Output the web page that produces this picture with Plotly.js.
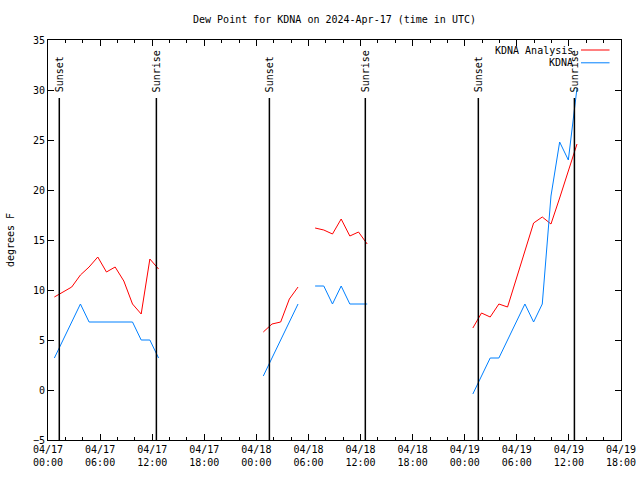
<!DOCTYPE html>
<html>
<head>
<meta charset="utf-8">
<script src="https://cdn.plot.ly/plotly-3.0.1.min.js"></script>
<style>html,body{margin:0;padding:0;background:#fff;}#chart{width:640px;height:480px;}</style>
</head>
<body>
<div id="chart"></div>
<script>
// ---- data ----
const seg1Times = ["2024-04-17 00:44","2024-04-17 01:44","2024-04-17 02:44","2024-04-17 03:44","2024-04-17 04:44","2024-04-17 05:44","2024-04-17 06:44","2024-04-17 07:44","2024-04-17 08:44","2024-04-17 09:44","2024-04-17 10:44","2024-04-17 11:44","2024-04-17 12:44"];
const seg1Analysis = [9.3, 9.8, 10.3, 11.5, 12.3, 13.3, 11.8, 12.3, 10.9, 8.6, 7.6, 13.1, 12.1];
const seg1Obs = [3.2, 5.0, 6.8, 8.6, 6.8, 6.8, 6.8, 6.8, 6.8, 6.8, 5.0, 5.0, 3.2];

const seg2Times = ["2024-04-18 00:48","2024-04-18 01:48","2024-04-18 02:48","2024-04-18 03:48","2024-04-18 04:48"];
const seg2Analysis = [5.8, 6.6, 6.8, 9.1, 10.3];
const seg2Obs = [1.4, 3.2, 5.0, 6.8, 8.6];

const seg3Times = ["2024-04-18 06:46","2024-04-18 07:46","2024-04-18 08:46","2024-04-18 09:46","2024-04-18 10:46","2024-04-18 11:46","2024-04-18 12:46"];
const seg3Analysis = [16.2, 16.0, 15.6, 17.1, 15.4, 15.8, 14.6];
const seg3Obs = [10.4, 10.4, 8.6, 10.4, 8.6, 8.6, 8.6];

const seg4Times = ["2024-04-19 00:56","2024-04-19 01:56","2024-04-19 02:56","2024-04-19 03:56","2024-04-19 04:56","2024-04-19 05:56","2024-04-19 06:56","2024-04-19 07:56","2024-04-19 08:56","2024-04-19 09:56","2024-04-19 10:56","2024-04-19 11:56","2024-04-19 12:56"];
const seg4Analysis = [6.2, 7.7, 7.3, 8.6, 8.3, 11.1, 13.9, 16.7, 17.3, 16.6, 19.2, 21.9, 24.6];
const seg4Obs = [-0.4, 1.4, 3.2, 3.2, 5.0, 6.8, 8.6, 6.8, 8.6, 19.4, 24.8, 23.0, 30.2];

const sunEventTimes = ["2024-04-17 01:18","2024-04-17 12:29","2024-04-18 01:30","2024-04-18 12:33","2024-04-19 01:34","2024-04-19 12:38"];
const sunEventLabels = ["Sunset","Sunrise","Sunset","Sunrise","Sunset","Sunrise"];

const seriesNames = ["KDNA Analysis", "KDNA"];
const titleText = "Dew Point for KDNA on 2024-Apr-17 (time in UTC)";
const yTitle = "degrees F";

// ---- build ----
const segTimes = [seg1Times, seg2Times, seg3Times, seg4Times];
const segA = [seg1Analysis, seg2Analysis, seg3Analysis, seg4Analysis];
const segO = [seg1Obs, seg2Obs, seg3Obs, seg4Obs];
function joinSegs(valsList){
  const xs=[], ys=[];
  segTimes.forEach((t,i)=>{
    if(i>0){ xs.push(t[0]); ys.push(null); }
    t.forEach((v,j)=>{ xs.push(v); ys.push(valsList[i][j]); });
  });
  return {xs, ys};
}
const A = joinSegs(segA), O = joinSegs(segO);
const RED = "#ff0000", BLUE = "#0080ff";
const FONT = "DejaVu Sans Mono, monospace";

const traces = [
  {x:A.xs, y:A.ys, type:"scatter", mode:"lines", name:seriesNames[0], line:{color:RED, width:1}, connectgaps:false},
  {x:O.xs, y:O.ys, type:"scatter", mode:"lines", name:seriesNames[1], line:{color:BLUE, width:1}, connectgaps:false}
];

const shapes = sunEventTimes.map(t=>({type:"line", xref:"x", yref:"y", x0:t, x1:t, y0:-5, y1:29.2, line:{color:"#000", width:1.5}}));
const annotations = sunEventTimes.map((t,i)=>({x:t, y:29.6, xref:"x", yref:"y", text:sunEventLabels[i], textangle:-90, showarrow:false, xanchor:"center", yanchor:"bottom", font:{family:FONT, size:10, color:"#000"}}));

// legend (gnuplot style: text then sample line)
const legendY = [0.975, 0.943];
seriesNames.forEach((n,i)=>{
  annotations.push({xref:"paper", yref:"paper", x:0.9197, y:legendY[i], text:n, showarrow:false, xanchor:"right", yanchor:"middle", font:{family:FONT, size:10, color:"#000"}});
  shapes.push({type:"line", xref:"paper", yref:"paper", x0:0.9302, x1:0.98, y0:legendY[i], y1:legendY[i], line:{color:i===0?RED:BLUE, width:1}});
});

const layout = {
  width:640, height:480,
  margin:{l:48, r:19, t:40, b:40, pad:0},
  paper_bgcolor:"#fff", plot_bgcolor:"#fff",
  showlegend:false,
  font:{family:FONT, size:10, color:"#000"},
  title:{text:titleText, x:0.5, xref:"paper", y:1-19/480, yref:"container", yanchor:"middle", font:{family:FONT, size:10, color:"#000"}},
  xaxis:{
    type:"date", range:["2024-04-17 00:00","2024-04-19 18:00"],
    tick0:"2024-04-17 00:00", dtick:6*3600*1000, tickformat:"%m/%d<br>%H:%M",
    ticks:"inside", ticklen:6, tickcolor:"#000", tickwidth:1,
    minor:{dtick:2*3600*1000, tick0:"2024-04-17 00:00", ticks:"inside", ticklen:3, tickcolor:"#000", showgrid:false},
    showline:true, linecolor:"#000", linewidth:1, mirror:"allticks",
    showgrid:false, zeroline:false, tickfont:{family:FONT, size:10, color:"#000"}
  },
  yaxis:{
    range:[-5,35], dtick:5, tick0:0,
    ticks:"inside", ticklen:6, tickcolor:"#000", tickwidth:1,
    showline:true, linecolor:"#000", linewidth:1, mirror:"allticks",
    showgrid:false, zeroline:false, tickfont:{family:FONT, size:10, color:"#000"},
    title:{text:yTitle, standoff:16, font:{family:FONT, size:10, color:"#000"}}
  },
  shapes:shapes, annotations:annotations
};
Plotly.newPlot("chart", traces, layout, {staticPlot:true, displayModeBar:false});
</script>
</body>
</html>
